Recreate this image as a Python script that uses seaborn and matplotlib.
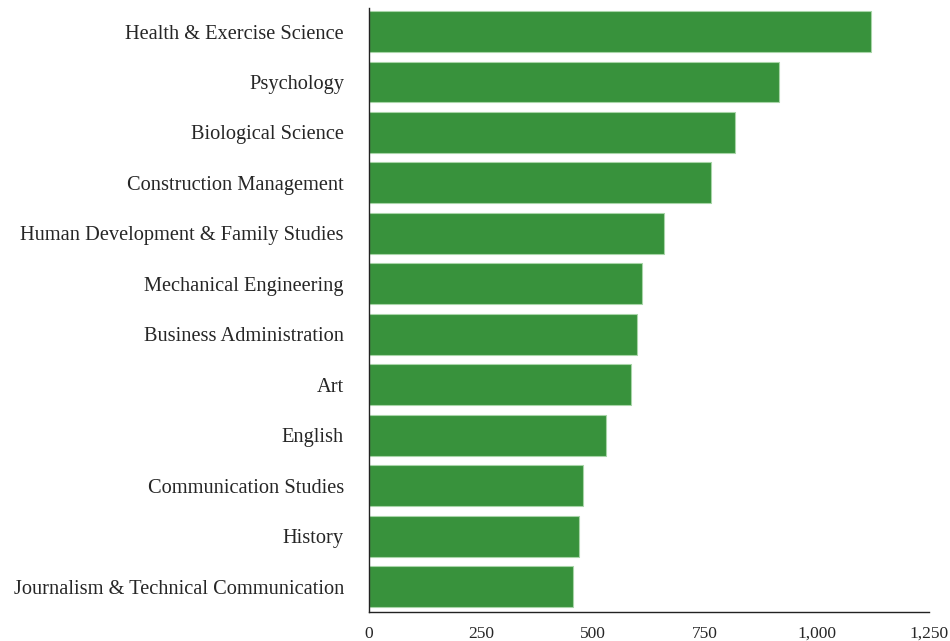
import matplotlib
matplotlib.use("Agg")
import matplotlib.pyplot as plt
import seaborn as sns
import pandas as pd

majors = [
    "Health & Exercise Science",
    "Psychology",
    "Biological Science",
    "Construction Management",
    "Human Development & Family Studies",
    "Mechanical Engineering",
    "Business Administration",
    "Art",
    "English",
    "Communication Studies",
    "History",
    "Journalism & Technical Communication",
]
counts = [1120, 915, 817, 763, 658, 609, 598, 585, 529, 478, 469, 455]

df = pd.DataFrame({"major": majors, "count": counts})

sns.set_style("white")
plt.rcParams["font.family"] = ["Liberation Serif", "DejaVu Serif"]

fig = plt.figure(figsize=(9.5, 6.41), dpi=100)
ax = fig.add_axes([0.3884, 0.0452, 0.5896, 0.9423])

sns.barplot(data=df, x="count", y="major", color="#38923c", saturation=1,
            width=0.81, edgecolor="#a8d5a8", linewidth=0.8, ax=ax)

ax.set_xlim(0, 1250)
ax.set_ylim(11.505, -0.466)
ax.set_xticks([0, 250, 500, 750, 1000, 1250])
ax.set_xticklabels(["0", "250", "500", "750", "1,000", "1,250"])
ax.tick_params(axis="y", length=0, pad=18, labelsize=14.7)
ax.tick_params(axis="x", length=0, pad=10, labelsize=12.5)
ax.set_xlabel("")
ax.set_ylabel("")

sns.despine(ax=ax)
for side in ["left", "bottom"]:
    ax.spines[side].set_color("#222222")
    ax.spines[side].set_linewidth(1.0)

fig.savefig("out.png", dpi=100)
